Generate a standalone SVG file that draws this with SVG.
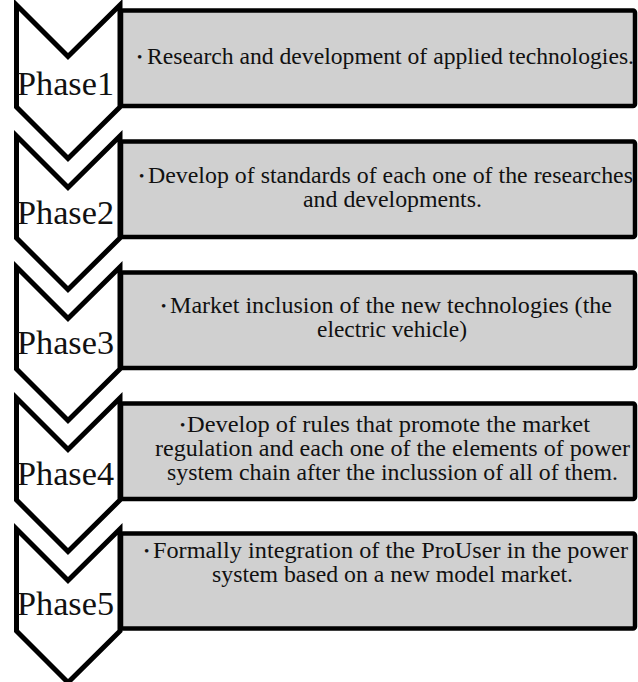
<svg xmlns="http://www.w3.org/2000/svg" width="638" height="682" viewBox="0 0 638 682">
<defs>
<style>
.box{fill:#d0d0d0;stroke:#000;stroke-width:4.5}
.chev{fill:#fff;stroke:#000;stroke-width:5;stroke-linejoin:miter}
.t{font-family:"Liberation Serif","Times New Roman",serif;font-size:23px;fill:#111}
.b{font-family:"Liberation Serif","Times New Roman",serif;font-size:15px;fill:#111}
.p{font-family:"Liberation Serif","Times New Roman",serif;font-size:34px;fill:#111}
</style>
<path id="chevshape" d="M16.5,5 L68,56.5 L120,5 L120,107 L68,158.5 L16.5,107 Z"/>
</defs>
<g id="connectors"></g>
<g id="phase1">
<rect class="box" x="121" y="10.5" width="514" height="95.5" rx="2"/>
<use href="#chevshape" class="chev"/>
<text class="p" x="17" y="95" textLength="97" lengthAdjust="spacingAndGlyphs">Phase1</text>
<text class="b" x="137" y="62">•</text>
<text class="t" x="147" y="64" textLength="487" lengthAdjust="spacingAndGlyphs">Research and development of applied technologies.</text>
</g>
<g id="phase2">
<rect class="box" x="121" y="141.5" width="514" height="95.5" rx="2"/>
<use href="#chevshape" class="chev" y="131"/>
<text class="p" x="17" y="224" textLength="97" lengthAdjust="spacingAndGlyphs">Phase2</text>
<text class="b" x="139" y="181">•</text>
<text class="t" x="148" y="183" textLength="485" lengthAdjust="spacingAndGlyphs">Develop of standards of each one of the researches</text>
<text class="t" x="303" y="207" textLength="179" lengthAdjust="spacingAndGlyphs">and developments.</text>
</g>
<g id="phase3">
<rect class="box" x="121" y="272.5" width="514" height="95.5" rx="2"/>
<use href="#chevshape" class="chev" y="262"/>
<text class="p" x="17" y="354" textLength="97" lengthAdjust="spacingAndGlyphs">Phase3</text>
<text class="b" x="161" y="311">•</text>
<text class="t" x="170" y="313" textLength="442" lengthAdjust="spacingAndGlyphs">Market inclusion of the new technologies  (the</text>
<text class="t" x="317" y="337" textLength="150" lengthAdjust="spacingAndGlyphs">electric vehicle)</text>
</g>
<g id="phase4">
<rect class="box" x="121" y="403.5" width="514" height="95.5" rx="2"/>
<use href="#chevshape" class="chev" y="393"/>
<text class="p" x="17" y="485" textLength="97" lengthAdjust="spacingAndGlyphs">Phase4</text>
<text class="b" x="180" y="430">•</text>
<text class="t" x="187" y="432" textLength="403" lengthAdjust="spacingAndGlyphs">Develop of  rules that promote the market</text>
<text class="t" x="155" y="456" textLength="475" lengthAdjust="spacingAndGlyphs">regulation  and each one of the elements  of power</text>
<text class="t" x="167" y="480" textLength="451" lengthAdjust="spacingAndGlyphs">system chain after the inclussion of all of them.</text>
</g>
<g id="phase5">
<rect class="box" x="121" y="533.5" width="514" height="95" rx="2"/>
<use href="#chevshape" class="chev" y="524"/>
<text class="p" x="17" y="615" textLength="97" lengthAdjust="spacingAndGlyphs">Phase5</text>
<text class="b" x="144" y="556">•</text>
<text class="t" x="153" y="558" textLength="475" lengthAdjust="spacingAndGlyphs">Formally integration of the  ProUser in the power</text>
<text class="t" x="212" y="582" textLength="361" lengthAdjust="spacingAndGlyphs">system based on a new model market.</text>
</g>
</svg>
